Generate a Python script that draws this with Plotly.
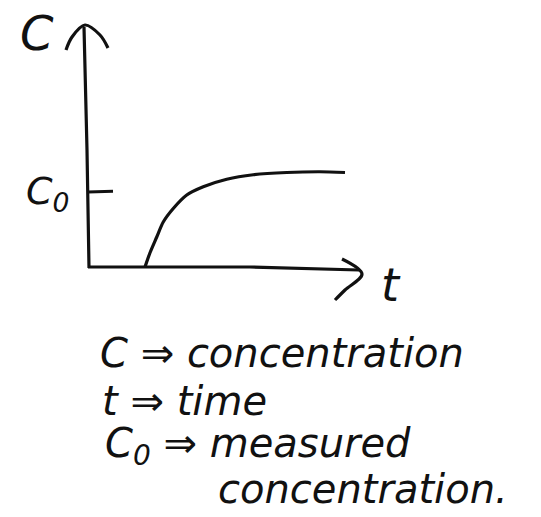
import plotly.graph_objects as go

# Concentration response: time (arbitrary units) vs concentration (relative to C0)
time = [2.28, 2.48, 2.75, 3.01, 3.41, 3.95, 4.61, 5.55, 6.61, 7.95, 9.28, 10.28]
conc = [0.0, 0.19, 0.40, 0.60, 0.78, 0.96, 1.07, 1.17, 1.23, 1.26, 1.27, 1.26]
c0_level = 1.0

axis_labels = ["C", "t"]
tick_label = "C<sub>0</sub>"
legend_lines = ["C ⇒ concentration", "t ⇒ time", "C<sub>0</sub> ⇒ measured", "concentration."]

W, H = 541, 517
# pixel <-> data mapping (origin of the sketch axes)
X0_PX, Y0_PX, PX_PER_T, PX_PER_C = 88, 267, 25.0, 75.0
x_range = [(0 - X0_PX) / PX_PER_T, (W - X0_PX) / PX_PER_T]
y_range = [(Y0_PX - H) / PX_PER_C, (Y0_PX - 0) / PX_PER_C]

def px(x, y):
    """Convert window pixel position to data coordinates."""
    return (x - X0_PX) / PX_PER_T, (Y0_PX - y) / PX_PER_C

ink = "#111111"
lw = 3.2
fig = go.Figure()

def stroke(points, width=lw, shape="linear"):
    xs, ys = zip(*[px(*p) for p in points])
    fig.add_trace(go.Scatter(x=xs, y=ys, mode="lines",
                             line=dict(color=ink, width=width, shape=shape),
                             hoverinfo="skip", showlegend=False))

# vertical (C) axis with open arrowhead
stroke([(89, 268), (87, 150), (84, 27)])
stroke([(66, 50), (72, 37), (85, 25), (100, 35), (108, 48)], shape="spline")
# horizontal (t) axis with open arrowhead
stroke([(88, 267), (250, 267), (359, 270)])
stroke([(342, 259), (362, 274), (345, 290), (335, 300)], shape="spline")
# C0 tick
fig.add_trace(go.Scatter(x=[0, 1.0], y=[c0_level, c0_level + 0.01], mode="lines",
                         line=dict(color=ink, width=lw), hoverinfo="skip", showlegend=False))

# response curve
fig.add_trace(go.Scatter(x=time, y=conc, mode="lines",
                         line=dict(color=ink, width=lw, shape="spline", smoothing=0.8),
                         hoverinfo="skip", showlegend=False))

font = dict(family="DejaVu Sans", color=ink, style="italic")

def label(text, x, y, size, anchor="center"):
    fig.add_annotation(x=x / W, y=1 - y / H, xref="paper", yref="paper",
                       text=text, showarrow=False, xanchor=anchor, yanchor="middle",
                       font=dict(size=size, **font))

label(axis_labels[0], 37, 33, 48)
label(tick_label, 47, 193, 38)
label(axis_labels[1], 391, 285, 46)

legend_pos = [(98, 353), (100, 401), (103, 446), (216, 489)]
for txt, (x, y) in zip(legend_lines, legend_pos):
    label(txt, x, y, 40, anchor="left")

fig.update_layout(
    width=W, height=H, margin=dict(l=0, r=0, t=0, b=0),
    paper_bgcolor="white", plot_bgcolor="white",
    xaxis=dict(range=x_range, visible=False, fixedrange=True),
    yaxis=dict(range=y_range, visible=False, fixedrange=True),
    showlegend=False,
)

fig.write_html("out.html")
